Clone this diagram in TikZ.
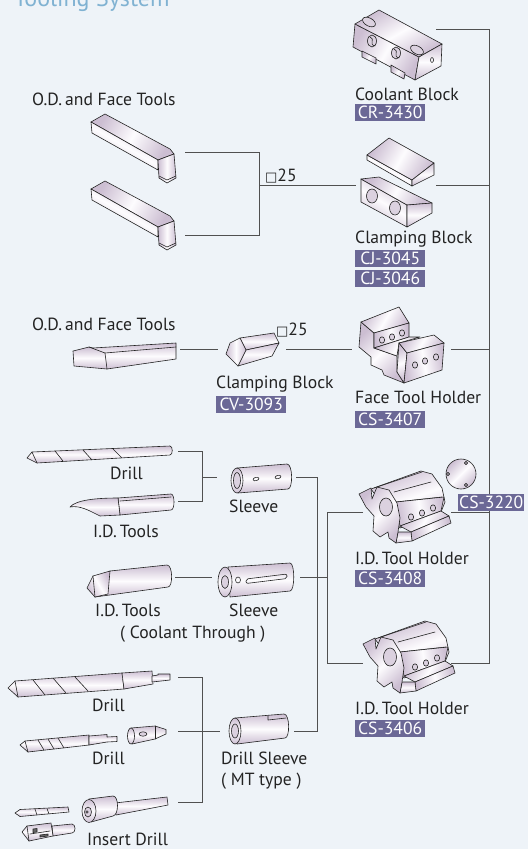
\documentclass[tikz,border=0pt]{standalone}
\usepackage{fontspec}
\setmainfont{PT Sans}
\newfontfamily\symfont{DejaVu Sans}
\usetikzlibrary{calc}

\definecolor{paper}{RGB}{238,243,248}
\definecolor{ink}{RGB}{35,35,35}
\definecolor{wirec}{RGB}{80,80,80}
\definecolor{tagc}{RGB}{107,104,150}
\definecolor{headc}{RGB}{128,178,210}
\definecolor{mLo}{RGB}{204,190,210}
\definecolor{mHi}{RGB}{253,252,254}

\tikzset{
  lbl/.style={font=\fontsize{17.6}{19}\selectfont, text=ink, anchor=base west, inner sep=0pt},
  tagbox/.style={fill=tagc, text=white, font=\fontsize{17.6}{19}\selectfont, anchor=north west,
    inner xsep=1pt, inner ysep=0pt, minimum height=17pt, minimum width=#1},
  tagbox/.default=70pt,
  wire/.style={draw=wirec, line width=0.9pt},
  edge/.style={draw=ink, line width=0.6pt, line join=round, line cap=round},
  face/.style={edge, top color=mLo, bottom color=mLo, middle color=mHi, shading angle=#1},
  face/.default=0,
  hole/.style={edge, fill=mLo!70},
  % straight O.D. tool with a bent cutting head
  odtool/.pic={
    \draw[face=60] (0,9) -- (14,1) -- (79,36) -- (83,41) -- (67,47) -- cycle;
    \draw[face=150] (0,9) -- (67,47) -- (67,57) -- (1,20) -- cycle;
    \draw[face=90] (67,47) -- (83,41) -- (85,65) -- (76,70) -- (68,65) -- cycle;
    \draw[edge] (68,63) -- (76,67) -- (85,63);
  },
  % I.D. tool holder: octagonal body, notched flange, front ledge
  idholder/.pic={
    \draw[face=20] (14,17) -- (64,-1) -- (75,2) -- (85,16) -- (88,30) -- (84,40) -- (43,56) -- cycle;
    \draw[edge] (17,16) -- (65,0) (37,20) -- (74,10) (39,30) -- (85,25);
    \draw[face=100] (39,30) -- (87,25) -- (84,39) -- (43,54) -- cycle;
    \foreach \p in {(54,45),(65,41),(76,36)} \draw[hole] \p ellipse [x radius=2.6, y radius=3.2];
    \draw[face=60] (43,54) -- (84,39) -- (92,44) -- (54,60) -- cycle;
    \draw[face=100] (54,60) -- (92,44) -- (94,51) -- (55,69) -- cycle;
    \draw[face] (41,60) -- (54,60) -- (55,69) -- (39,71) -- cycle;
    \draw[face=45] (2,22) -- (14,16) -- (15,27) -- (20,15) -- (32,18) -- (40,31) -- (43,46) -- (41,60)
      -- (39,71) -- (32,66) -- (31,60) -- (23,65) -- (16,59) -- (17,44) -- (9,35) -- cycle;
    \draw[hole] (29,35) ellipse [x radius=6.5, y radius=9];
  },
}

\begin{document}
\begin{tikzpicture}[x=1pt,y=-1pt]
\useasboundingbox (0,0) rectangle (528,849);
\fill[paper] (0,0) rectangle (528,849);
\begin{scope}
  \clip (0,0) rectangle (528,849);
  \node[anchor=base west, inner sep=0pt, text=headc, font=\fontsize{24}{26}\selectfont] (heading) at (14,6) {Tooling System};
\end{scope}

% ---------- connector end points ----------
\coordinate (coolE) at (436,29);
\coordinate (busT) at (489,29);
\coordinate (busB) at (489,663);
\coordinate (odAE) at (185,152);
\coordinate (odBE) at (185,235);
\coordinate (odJA) at (259,152);
\coordinate (odJB) at (259,235);
\coordinate (odJM) at (259,185);
\coordinate (cjW) at (356,185);
\coordinate (cjE) at (436,185);
\coordinate (bus185) at (489,185);
\coordinate (odCE) at (180,349);
\coordinate (cvW) at (218,349);
\coordinate (cvE) at (286,349);
\coordinate (fthW) at (352,349);
\coordinate (fthE) at (451,349);
\coordinate (bus349) at (489,349);
\coordinate (drAE) at (178,451);
\coordinate (idAE) at (178,501);
\coordinate (jAT) at (202,451);
\coordinate (jAB) at (202,501);
\coordinate (jAM) at (202,477);
\coordinate (slAW) at (217,477);
\coordinate (slAE) at (296,477);
\coordinate (vLT) at (317,477);
\coordinate (vLB) at (317,731);
\coordinate (dsE) at (294,731);
\coordinate (vRT) at (327,512);
\coordinate (vRB) at (327,663);
\coordinate (vRM) at (327,577);
\coordinate (hAW) at (363,512);
\coordinate (hAE) at (451,512);
\coordinate (bus512) at (489,512);
\coordinate (hBW) at (363,663);
\coordinate (hBE) at (451,663);
\coordinate (idCE) at (175,577);
\coordinate (slBW) at (212,577);
\coordinate (slBE) at (300,577);
\coordinate (drBE) at (178,677);
\coordinate (drCE) at (178,731);
\coordinate (insE) at (178,802);
\coordinate (jBT) at (202,677);
\coordinate (jBB) at (202,802);
\coordinate (dsW) at (220,731);

% ---------- connectors ----------
\draw[wire] (coolE) -- (busT) -- (busB) -- (hBE);
\draw[wire] (odAE) -- (odJA) -- (odJB) -- (odBE);
\draw[wire] (odJM) -- (cjW);
\draw[wire] (cjE) -- (bus185);
\draw[wire] (odCE) -- (cvW);
\draw[wire] (cvE) -- (fthW);
\draw[wire] (fthE) -- (bus349);
\draw[wire] (drAE) -- (jAT) -- (jAB) -- (idAE);
\draw[wire] (jAM) -- (slAW);
\draw[wire] (slAE) -- (vLT) -- (vLB) -- (dsE);
\draw[wire] (hAW) -- (vRT) -- (vRB) -- (hBW);
\draw[wire] (hAE) -- (bus512);
\draw[wire] (idCE) -- (slBW);
\draw[wire] (slBE) -- (vRM);
\draw[wire] (drBE) -- (jBT) -- (jBB) -- (insE);
\draw[wire] (drCE) -- (dsW);

% ---------- coolant block ----------
\draw[face=60] (355,24) -- (419,57) -- (415,80) -- (353,47) -- cycle;
\draw[face=30] (355,24) -- (379,10) -- (442,44) -- (419,57) -- cycle;
\draw[face=0] (419,57) -- (442,44) -- (441,66) -- (415,80) -- cycle;
\draw[face=60] (362,51) -- (376,58) -- (376,64) -- (362,57) -- cycle;
\draw[face=60] (391,65) -- (405,73) -- (404,79) -- (391,72) -- cycle;
\draw[hole, rotate around={-28:(369,22)}] (369,22) ellipse [x radius=7, y radius=4];
\draw[hole, rotate around={-28:(417,50)}] (417,50) ellipse [x radius=7, y radius=4];
\draw[hole] (372,41) ellipse [x radius=4.5, y radius=6];
\draw[edge] (370,37) .. controls (376,39) and (368,44) .. (375,46);
\draw[hole] (396,53) ellipse [x radius=4.5, y radius=6];
\draw[edge] (394,49) .. controls (400,51) and (392,56) .. (399,58);
\draw[edge] (432,60) ellipse [x radius=1.5, y radius=2.5];

% ---------- O.D. tools ----------
\pic (odA) at (91,113) {odtool};
\pic (odB) at (91,180) {odtool};

% ---------- clamping block CJ ----------
\draw[face=150] (367,155) -- (412,180) -- (412,186) -- (367,160) -- cycle;
\draw[face=60] (367,155) -- (389,138) -- (434,163) -- (412,180) -- cycle;
\draw[face=0] (412,180) -- (434,163) -- (434,175) -- (412,186) -- cycle;
\draw[face=150] (361,179) -- (407,205) -- (407,227) -- (361,202) -- cycle;
\draw[face=60] (361,179) -- (379,177) -- (432,203) -- (407,205) -- cycle;
\draw[face=0] (407,205) -- (432,203) -- (432,213) -- (407,227) -- cycle;
\draw[hole] (372,196) ellipse [x radius=5.5, y radius=7];
\draw[hole] (395,208) ellipse [x radius=5.5, y radius=7];

% ---------- O.D. tool (straight) ----------
\draw[face=0] (93,348) -- (176,343) -- (176,359) -- (107,369) -- cycle;
\draw[face=0] (73,351) -- (89,347) -- (105,353) -- (107,369) -- (74,366) -- cycle;
\draw[edge] (89,347) -- (93,348) (105,353) -- (176,347);

% ---------- clamping block CV ----------
\draw[face=0] (240,338) -- (274,333) -- (279,343) -- (246,350) -- cycle;
\draw[face=0] (246,350) -- (279,343) -- (272,356) -- (238,366) -- cycle;
\draw[face=90] (226,354) -- (230,343) -- (240,338) -- (246,350) -- (238,366) -- cycle;

% ---------- face tool holder ----------
\draw[face=45] (361,322) -- (374,333) -- (374,348) -- (397,356) -- (397,372) -- (404,383) -- (384,375)
  -- (382,370) -- (371,365) -- (371,357) -- (359,347) -- cycle;
\draw[face=60] (361,322) -- (399,307) -- (409,323) -- (374,333) -- cycle;
\draw[face=100] (374,333) -- (409,323) -- (409,337) -- (374,348) -- cycle;
\foreach \p in {(382,340),(392,337),(402,333)} \draw[hole] \p ellipse [x radius=2.6, y radius=3.2];
\draw[face=60] (374,348) -- (409,337) -- (420,337) -- (399,343) -- (397,356) -- cycle;
\draw[face=20] (399,343) -- (407,353) -- (404,383) -- (397,372) -- cycle;
\draw[face=60] (399,343) -- (434,335) -- (444,343) -- (407,353) -- cycle;
\draw[face=100] (407,353) -- (444,343) -- (442,370) -- (404,383) -- cycle;
\foreach \p in {(415,365),(425,361),(436,357)} \draw[hole] \p ellipse [x radius=2.6, y radius=3.2];

% ---------- drill ----------
\draw[face=0] (27,458) -- (32,452) -- (170,446) .. controls (173,446) and (173,455) .. (170,455) -- (37,463) -- cycle;
\draw[edge] (32,452) -- (37,463) (55,451) -- (63,461) (83,450) -- (92,460) (113,449) -- (122,458);

% ---------- I.D. tool ----------
\draw[face=0] (118,498) -- (171,494) .. controls (175,494) and (175,510) .. (171,510) -- (120,515) -- cycle;
\draw[face=0] (118,498) -- (120,515) -- (100,516) .. controls (90,511) and (80,505) .. (70,507)
  .. controls (76,500) and (96,498) .. (118,498) -- cycle;
\draw[edge] (120,501) -- (171,497);

% ---------- sleeve ----------
\draw[face=0] (237,468) -- (287,464) .. controls (293,464) and (293,489) .. (288,489) -- (238,493) -- cycle;
\draw[face=0] (237,480.5) ellipse [x radius=6, y radius=12.5];
\draw[hole] (237,480.5) ellipse [x radius=3.5, y radius=8];
\draw[edge, rotate around={15:(256,479)}] (256,479) ellipse [x radius=3, y radius=1.7];
\draw[edge, rotate around={15:(278,477)}] (278,477) ellipse [x radius=3, y radius=1.7];

% ---------- I.D. tool holders ----------
\pic (idhA) at (357,472) {idholder};
\pic (idhB) at (361,622) {idholder};

% ---------- disc ----------
\draw[face=45] (461,474) circle (15);
\foreach \p in {(466,463),(448,474),(466,485)} \draw[hole] \p circle (1.6);

% ---------- I.D. tool, coolant through ----------
\draw[face=0] (110,571) -- (167,565) .. controls (173,565) and (173,587) .. (168,587) -- (95,597) -- cycle;
\draw[face=120] (87,588) -- (93,576) -- (110,571) -- (108,594) -- (95,597) -- cycle;
\draw[edge] (93,576) -- (95,597);

% ---------- sleeve, coolant through ----------
\draw[face=0] (228,567) -- (290,563) .. controls (295,563) and (295,591) .. (290,591) -- (230,597) -- cycle;
\draw[face=0] (225,582) ellipse [x radius=7, y radius=15];
\draw[hole] (225,582) ellipse [x radius=3.5, y radius=6.5];
\draw[edge] (238,580) ellipse [x radius=2.5, y radius=3];
\draw[edge, rounded corners=2pt] (246,579) -- (287,574) -- (287,578.5) -- (246,583.5) -- cycle;

% ---------- drill (MT shank) ----------
\draw[face=0] (8,688) -- (15,681) -- (122,673) -- (124,689) -- (18,697) -- cycle;
\draw[edge] (15,681) -- (18,697) (33,680) -- (45,695) (53,678) -- (66,693) (75,677) -- (88,691);
\draw[face=0] (122,673) -- (152,671) -- (153,684) -- (124,689) -- cycle;
\draw[face=0] (152,676) -- (158,675) -- (158,674) -- (170,674) -- (170,680) -- (152,682) -- cycle;

% ---------- drill (small) with sleeve ----------
\draw[face=0] (20,745) -- (25,741) -- (89,735) -- (89,745) -- (28,752) -- cycle;
\draw[edge] (25,741) -- (28,752) (38,740) -- (44,750) (48,739) -- (54,749) (58,738) -- (64,748);
\draw[face=0] (89,736) -- (107,734.5) -- (107,737) -- (117,736.5) -- (117,741.5) -- (107,742) -- (89,745) -- cycle;
\draw[face=0] (131,728) -- (155,726) -- (166,729.5) -- (166,734) -- (155,739) -- (132,744) -- cycle;
\draw[edge] (155,726) -- (155,739);
\draw[face=0] (131,736) ellipse [x radius=3.5, y radius=8];
\draw[hole] (143,734) ellipse [x radius=4, y radius=2.2];

% ---------- drill sleeve (MT type) ----------
\draw[face=0] (235,718) -- (284,714) .. controls (290,714) and (290,738) .. (285,738) -- (237,744) -- cycle;
\draw[face=0] (235,731) ellipse [x radius=6, y radius=13];
\draw[hole] (235,731) ellipse [x radius=3.5, y radius=7];
\draw[edge] (268,716) -- (268,720) -- (286,718);

% ---------- insert drill ----------
\draw[face=0] (115,803) -- (167,797) -- (168,805) -- (116,815) -- cycle;
\draw[face=0] (89,799) -- (113,796) .. controls (119,796) and (119,815) .. (113,816) -- (91,822) -- cycle;
\draw[face=0] (89,811) ellipse [x radius=7, y radius=11.5];
\draw[hole] (88,812) ellipse [x radius=3.5, y radius=5];
\draw[edge] (87,812) circle (1.3);
\draw[face=0] (15,813) -- (20,809.5) -- (68,807) -- (69,812) -- (20,816.5) -- cycle;
\draw[edge] (35,809) -- (37,815) (47,808.5) -- (49,814);
\draw[face=0] (52,826) -- (72,824) .. controls (76,824) and (76,833) .. (72,833) -- (53,836) -- cycle;
\draw[face=0] (22,832) -- (27,826) -- (51,823) -- (53,836) -- (29,841) -- cycle;
\draw[edge] (27,826) -- (29,841) (30,834) -- (50,831);
\draw[edge, fill=ink!70] (33,829) -- (37,828.5) -- (37,832) -- (33,832.5) -- cycle;
\draw[edge, fill=ink!70] (40,835) -- (48,834) -- (48,836) -- (40,837) -- cycle;

% ---------- labels ----------
\node[lbl] (lOdA) at (32,105) {O.D.\,and Face Tools};
\node[lbl] (lCool) at (355,100) {Coolant Block};
\node[tagbox] (tCR) at (355,104) {CR-3430};
\node[lbl] (lCJ) at (355,243) {Clamping Block};
\node[tagbox] (tCJa) at (355,250) {CJ-3045};
\node[tagbox] (tCJb) at (355,270) {CJ-3046};
\node[lbl] (sqA) at (265,181) {{\symfont\fontsize{13}{14}\selectfont □}25};
\node[lbl] (lOdB) at (32,330) {O.D.\,and Face Tools};
\node[lbl] (sqB) at (276,335) {{\symfont\fontsize{13}{14}\selectfont □}25};
\node[lbl] (lCV) at (216,388) {Clamping Block};
\node[tagbox] (tCV) at (216,396) {CV-3093};
\node[lbl] (lFth) at (355,403) {Face Tool Holder};
\node[tagbox] (tFth) at (355,411) {CS-3407};
\node[lbl] (lDrA) at (110,479) {Drill};
\node[lbl] (lIdA) at (93,537) {I.D.\,Tools};
\node[lbl] (lSlA) at (229,512) {Sleeve};
\node[lbl] (lIdhA) at (355,564) {I.D.\,Tool Holder};
\node[tagbox] (tIdhA) at (355,570) {CS-3408};
\node[tagbox=65pt] (tDisc) at (458,494) {CS-3220};
\node[lbl] (lIdB) at (95,616) {I.D.\,Tools};
\node[lbl] (lSlB) at (229,616) {Sleeve};
\node[lbl] (lCT) at (120,638) {( Coolant Through )};
\node[lbl] (lIdhB) at (355,714) {I.D.\,Tool Holder};
\node[tagbox] (tIdhB) at (355,720) {CS-3406};
\node[lbl] (lDrB) at (92,711) {Drill};
\node[lbl] (lDrC) at (92,764) {Drill};
\node[lbl] (lDs) at (221,764) {Drill Sleeve};
\node[lbl] (lMT) at (221,785) {( MT type )};
\node[lbl] (lIns) at (87,845) {Insert Drill};
\end{tikzpicture}
\end{document}
